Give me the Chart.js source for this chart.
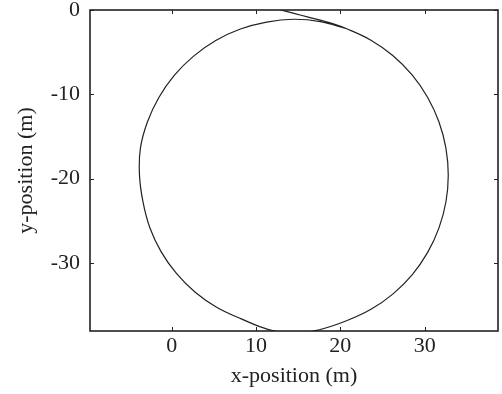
<!DOCTYPE html>
<html>
<head>
<meta charset="utf-8">
<script src="https://cdn.jsdelivr.net/npm/chart.js@4"></script>
<style>
html,body{margin:0;padding:0;background:#fff;}
#wrap{width:502px;height:394px;position:relative;}
</style>
</head>
<body>
<div id="wrap"><canvas id="c"></canvas></div>
<script>
// Path (x-position, y-position in metres)
const pathX = [12.9, 14.5, 16.2, 17.6, 18.7, 20.73, 23.63, 26.25, 28.51, 30.34, 31.69, 32.52, 32.8, 32.52, 31.69, 30.34, 28.51, 26.25, 23.63, 20.73, 17.5, 14.45, 11.4, 8.24, 5.37, 2.78, 0.55, -1.27, -2.61, -3.42, -3.83, -3.72, -2.89, -1.53, 0.32, 2.59, 5.22, 8.14, 11.25, 14.45, 17.63, 20.73];
const pathY = [0.0, -0.4, -0.85, -1.2, -1.5, -2.22, -3.58, -5.43, -7.71, -10.35, -13.27, -16.39, -19.6, -22.79, -25.89, -28.8, -31.43, -33.69, -35.53, -36.89, -37.95, -38.4, -37.9, -36.66, -35.32, -33.5, -31.27, -28.68, -25.81, -22.75, -19.6, -16.4, -13.29, -10.38, -7.74, -5.47, -3.62, -2.26, -1.43, -1.1, -1.38, -2.22];
const xTicks = [0, 10, 20, 30];
const yTicks = [0, -10, -20, -30];
const xRange = [-9.7, 38.7];
const yRange = [-38.1, 0];

const points = pathX.map((x, i) => ({x: x, y: pathY[i]}));
const FONT = "'Liberation Serif','Times New Roman',serif";
const INK = '#222';

const frame = {
  id: 'frame',
  afterDatasetsDraw(chart) {
    const ctx = chart.ctx, a = chart.chartArea;
    const xs = chart.scales.x, ys = chart.scales.y;
    ctx.save();
    ctx.strokeStyle = INK;
    ctx.lineWidth = 1;
    const L = 4;
    ctx.beginPath();
    xTicks.forEach(v => {
      const px = Math.round(xs.getPixelForValue(v)) + 0.5;
      ctx.moveTo(px, a.bottom); ctx.lineTo(px, a.bottom - L);
      ctx.moveTo(px, a.top); ctx.lineTo(px, a.top + L);
    });
    yTicks.forEach(v => {
      const py = Math.round(ys.getPixelForValue(v)) + 0.5;
      ctx.moveTo(a.left, py); ctx.lineTo(a.left + L, py);
      ctx.moveTo(a.right, py); ctx.lineTo(a.right - L, py);
    });
    ctx.stroke();
    ctx.lineWidth = 1.6;
    ctx.strokeRect(a.left, a.top, a.right - a.left, a.bottom - a.top);
    ctx.restore();
  }
};

new Chart(document.getElementById('c'), {
  type: 'scatter',
  data: {
    datasets: [{
      data: points,
      showLine: true,
      borderColor: '#222',
      borderWidth: 1.2,
      pointRadius: 0,
      tension: 0.4,
      fill: false
    }]
  },
  options: {
    responsive: true,
    maintainAspectRatio: false,
    animation: false,
    devicePixelRatio: 1,
    layout: {padding: {top: 10, right: 4, left: 0, bottom: 0}},
    plugins: {legend: {display: false}, tooltip: {enabled: false}},
    scales: {
      x: {
        type: 'linear',
        min: xRange[0], max: xRange[1],
        grid: {display: false, drawTicks: false},
        border: {display: false},
        afterBuildTicks: s => { s.ticks = xTicks.map(v => ({value: v})); },
        afterFit: s => { s.height = 63; s.paddingLeft = 0; s.paddingRight = 0; },
        ticks: {color: INK, font: {family: FONT, size: 22}, padding: 2, maxRotation: 0,
                callback: v => String(v)},
        title: {display: true, text: 'x-position (m)', color: INK,
                font: {family: FONT, size: 22}, padding: {top: 0, bottom: 5}}
      },
      y: {
        type: 'linear',
        min: yRange[0], max: yRange[1],
        grid: {display: false, drawTicks: false},
        border: {display: false},
        afterBuildTicks: s => { s.ticks = yTicks.map(v => ({value: v})); },
        afterFit: s => { s.width = 90; s.paddingTop = 0; s.paddingBottom = 0; },
        ticks: {color: INK, font: {family: FONT, size: 22}, padding: 10,
                callback: v => String(v)},
        title: {display: true, text: 'y-position (m)', color: INK,
                font: {family: FONT, size: 22}, padding: {top: 13, bottom: 0}}
      }
    }
  },
  plugins: [frame]
});
</script>
</body>
</html>
